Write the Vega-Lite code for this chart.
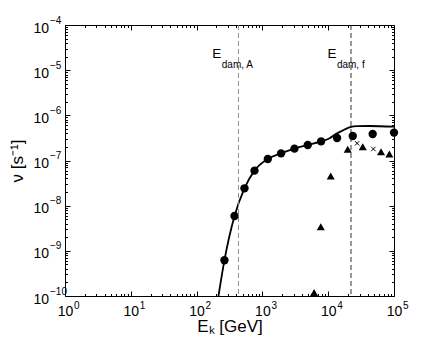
{
  "$schema": "https://vega.github.io/schema/vega-lite/v6.json",
  "width": 329,
  "height": 271,
  "autosize": "none",
  "padding": {"left": 65, "top": 25, "right": 42, "bottom": 46},
  "background": "white",
  "config": {
    "view": {"stroke": "black", "strokeWidth": 1},
    "font": "Liberation Sans",
    "axis": {"labelFont": "Liberation Sans", "titleFont": "Liberation Sans", "labelColor": "black", "titleColor": "black", "tickColor": "black", "domainColor": "black", "grid": false, "titleFontWeight": "normal", "labelFlush": false, "labelOverlap": false}
  },
  "datasets": {
    "curve": [
      {"E": 215, "nu": 1e-10},
      {"E": 265, "nu": 6.2e-10},
      {"E": 377, "nu": 5.9e-9},
      {"E": 534, "nu": 2.42e-8},
      {"E": 758, "nu": 5.96e-8},
      {"E": 1208, "nu": 1.08e-7},
      {"E": 1924, "nu": 1.44e-7},
      {"E": 3069, "nu": 1.83e-7},
      {"E": 4889, "nu": 2.2e-7},
      {"E": 7796, "nu": 2.65e-7},
      {"E": 10500, "nu": 3.1e-7},
      {"E": 12400, "nu": 3.67e-7},
      {"E": 16000, "nu": 4.5e-7},
      {"E": 21000, "nu": 5.43e-7},
      {"E": 28000, "nu": 5.75e-7},
      {"E": 42200, "nu": 5.8e-7},
      {"E": 100000, "nu": 5.6e-7}
    ],
    "circles": [
      {"E": 265, "nu": 6.2e-10},
      {"E": 377, "nu": 5.9e-9},
      {"E": 534, "nu": 2.42e-8},
      {"E": 758, "nu": 5.96e-8},
      {"E": 1208, "nu": 1.08e-7},
      {"E": 1924, "nu": 1.44e-7},
      {"E": 3069, "nu": 1.83e-7},
      {"E": 4889, "nu": 2.2e-7},
      {"E": 7796, "nu": 2.65e-7},
      {"E": 13640, "nu": 3.15e-7},
      {"E": 23600, "nu": 3.49e-7},
      {"E": 47400, "nu": 3.87e-7},
      {"E": 100000, "nu": 4.15e-7}
    ],
    "triangles": [
      {"E": 6100, "nu": 1.2e-10},
      {"E": 7710, "nu": 3.43e-9},
      {"E": 10920, "nu": 4.54e-8},
      {"E": 19800, "nu": 1.77e-7},
      {"E": 33500, "nu": 2.02e-7},
      {"E": 63500, "nu": 1.57e-7},
      {"E": 85000, "nu": 1.4e-7}
    ],
    "crosses": [
      {"E": 27500, "nu": 2.4e-7},
      {"E": 48600, "nu": 1.8e-7}
    ],
    "thresholds": [
      {"E": 433, "name": "A"},
      {"E": 22200, "name": "f"}
    ],
    "labels": [
      {"E": 173, "nu": 1.83e-5, "main": "E", "sub": "dam, A"},
      {"E": 9730, "nu": 1.83e-5, "main": "E", "sub": "dam, f"}
    ]
  },
  "resolve": {"axis": {"x": "independent", "y": "independent"}},
  "layer": [
    {
      "data": {"name": "curve"},
      "mark": {"type": "line", "color": "black", "strokeWidth": 1.8, "interpolate": "monotone", "clip": true},
      "encoding": {
        "x": {"field": "E", "type": "quantitative", "scale": {"type": "log", "domain": [1, 100000], "nice": false},
          "axis": {"orient": "bottom", "values": [1, 10, 100, 1000, 10000, 100000], "ticks": false, "domain": false,
            "labelExpr": "'10'", "labelFontSize": 14, "labelPadding": 8, "labelAlign": "center", "labelBaseline": "top",
            "title": "Eₖ [GeV]", "titleFontSize": 17, "titleBaseline": "alphabetic", "titleY": 35.5}},
        "y": {"field": "nu", "type": "quantitative", "scale": {"type": "log", "domain": [1e-10, 0.0001], "nice": false},
          "axis": {"orient": "left", "values": [1e-10, 1e-9, 1e-8, 1e-7, 1e-6, 1e-5, 0.0001], "ticks": false, "domain": false,
            "labelExpr": "'10'", "labelFontSize": 14, "labelPadding": 16.5, "labelAlign": "right", "labelBaseline": "middle", "labelOffset": 3,
            "title": "ν [s⁻¹]", "titleFontSize": 17, "titlePadding": 6}}
      }
    },
    {
      "data": {"name": "thresholds"},
      "mark": {"type": "rule", "strokeWidth": 0.9, "strokeDash": [5, 3]},
      "encoding": {
        "x": {"field": "E", "type": "quantitative",
          "axis": {"orient": "bottom", "values": [1, 10, 100, 1000, 10000, 100000], "labels": false, "domain": false, "title": null, "tickSize": -5}},
        "color": {"field": "name", "type": "nominal", "scale": {"domain": ["A", "f"], "range": ["#808080", "#1a1a1a"]}, "legend": null}
      }
    },
    {
      "data": {"name": "circles"},
      "mark": {"type": "point", "shape": "circle", "filled": true, "color": "black", "size": 70, "opacity": 1},
      "encoding": {
        "x": {"field": "E", "type": "quantitative",
          "axis": {"orient": "top", "values": [1, 10, 100, 1000, 10000, 100000], "labels": false, "domain": false, "title": null, "tickSize": -5}},
        "y": {"field": "nu", "type": "quantitative",
          "axis": {"orient": "left", "values": [1e-10, 1e-9, 1e-8, 1e-7, 1e-6, 1e-5, 0.0001], "labels": false, "domain": false, "title": null, "tickSize": -5}}
      }
    },
    {
      "data": {"name": "triangles"},
      "mark": {"type": "point", "shape": "triangle-up", "filled": true, "color": "black", "size": 65, "opacity": 1},
      "encoding": {
        "x": {"field": "E", "type": "quantitative",
          "axis": {"orient": "bottom", "values": [2,3,4,5,6,7,8,9,20,30,40,50,60,70,80,90,200,300,400,500,600,700,800,900,2000,3000,4000,5000,6000,7000,8000,9000,20000,30000,40000,50000,60000,70000,80000,90000], "labels": false, "domain": false, "title": null, "tickSize": -2.5}},
        "y": {"field": "nu", "type": "quantitative",
          "axis": {"orient": "right", "values": [1e-10, 1e-9, 1e-8, 1e-7, 1e-6, 1e-5, 0.0001], "labels": false, "domain": false, "title": null, "tickSize": -5}}
      }
    },
    {
      "data": {"name": "crosses"},
      "mark": {"type": "point", "shape": "M-1,-1L1,1M-1,1L1,-1", "filled": false, "color": "black", "size": 20, "strokeWidth": 1, "opacity": 1},
      "encoding": {
        "x": {"field": "E", "type": "quantitative",
          "axis": {"orient": "top", "values": [2,3,4,5,6,7,8,9,20,30,40,50,60,70,80,90,200,300,400,500,600,700,800,900,2000,3000,4000,5000,6000,7000,8000,9000,20000,30000,40000,50000,60000,70000,80000,90000], "labels": false, "domain": false, "title": null, "tickSize": -2.5}},
        "y": {"field": "nu", "type": "quantitative",
          "axis": {"orient": "left", "values": [2e-10,3e-10,4e-10,5e-10,6e-10,7e-10,8e-10,9e-10,2e-9,3e-9,4e-9,5e-9,6e-9,7e-9,8e-9,9e-9,2e-8,3e-8,4e-8,5e-8,6e-8,7e-8,8e-8,9e-8,2e-7,3e-7,4e-7,5e-7,6e-7,7e-7,8e-7,9e-7,2e-6,3e-6,4e-6,5e-6,6e-6,7e-6,8e-6,9e-6,2e-5,3e-5,4e-5,5e-5,6e-5,7e-5,8e-5,9e-5], "labels": false, "domain": false, "title": null, "tickSize": -2.5}}
      }
    },
    {
      "data": {"name": "labels"},
      "mark": {"type": "text", "align": "left", "baseline": "alphabetic", "fontSize": 13.5, "color": "black"},
      "encoding": {
        "x": {"field": "E", "type": "quantitative",
          "axis": {"orient": "bottom", "values": [1, 10, 100, 1000, 10000, 100000], "ticks": false, "domain": false, "title": null,
            "labelExpr": "round(log(datum.value)/LN10) + ''", "labelFontSize": 10, "labelPadding": 4, "labelAlign": "left", "labelBaseline": "top", "labelOffset": 8.5}},
        "y": {"field": "nu", "type": "quantitative",
          "axis": {"orient": "right", "values": [2e-10,3e-10,4e-10,5e-10,6e-10,7e-10,8e-10,9e-10,2e-9,3e-9,4e-9,5e-9,6e-9,7e-9,8e-9,9e-9,2e-8,3e-8,4e-8,5e-8,6e-8,7e-8,8e-8,9e-8,2e-7,3e-7,4e-7,5e-7,6e-7,7e-7,8e-7,9e-7,2e-6,3e-6,4e-6,5e-6,6e-6,7e-6,8e-6,9e-6,2e-5,3e-5,4e-5,5e-5,6e-5,7e-5,8e-5,9e-5], "labels": false, "domain": false, "title": null, "tickSize": -2.5}},
        "text": {"field": "main"}
      }
    },
    {
      "data": {"name": "labels"},
      "mark": {"type": "text", "align": "left", "baseline": "alphabetic", "fontSize": 10, "color": "black", "dx": 9.5, "dy": 10},
      "encoding": {
        "x": {"field": "E", "type": "quantitative", "axis": null},
        "y": {"field": "nu", "type": "quantitative",
          "axis": {"orient": "left", "values": [1e-10, 1e-9, 1e-8, 1e-7, 1e-6, 1e-5, 0.0001], "ticks": false, "domain": false, "title": null,
            "labelExpr": "'−' + (-round(log(datum.value)/LN10))", "labelFontSize": 10, "labelPadding": 15.5, "labelAlign": "left", "labelBaseline": "middle", "labelOffset": -5}},
        "text": {"field": "sub"}
      }
    }
  ]
}
